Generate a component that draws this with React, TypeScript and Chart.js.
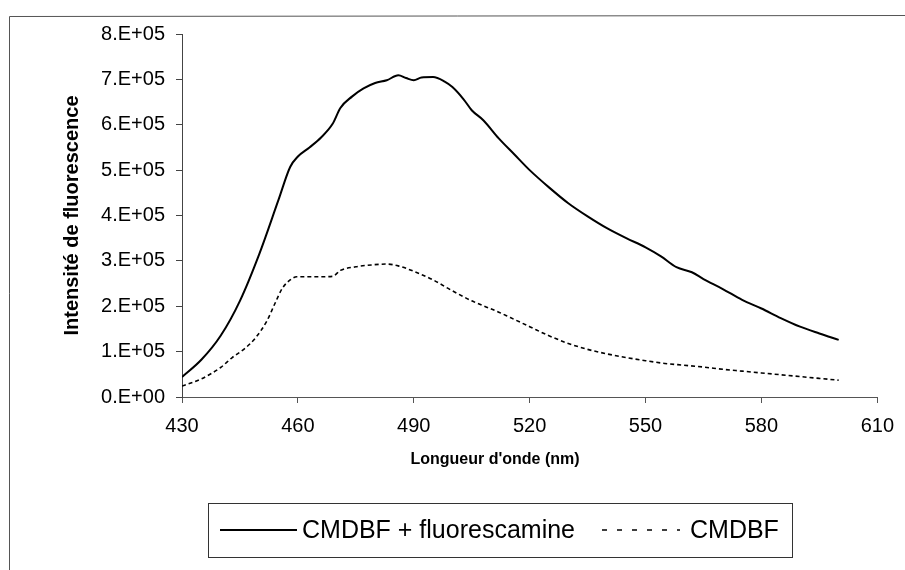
import React, { useEffect, useRef } from "react";
import { Chart, registerables } from "chart.js";

Chart.register(...registerables);

// Wavelength (nm) and fluorescence intensity for "CMDBF + fluorescamine"
const solidWavelengths = [
  430, 435, 440, 445, 450, 455, 458, 460, 463, 466, 469, 471, 474, 477, 480, 483,
  486, 488, 490, 492, 495, 498, 500, 503, 505, 508, 512, 516, 520, 525, 530, 535,
  540, 545, 550, 554, 558, 562, 565, 570, 575, 580, 585, 590, 595, 600,
];
const solidIntensity = [
  44000, 82000, 135000, 212000, 315000, 435000, 507000, 530000, 550000, 572000,
  602000, 637000, 662000, 680000, 692000, 698000, 709000, 703000, 698000, 704000,
  705000, 695000, 683000, 655000, 632000, 610000, 570000, 535000, 500000, 462000,
  427000, 398000, 372000, 350000, 330000, 310000, 286000, 275000, 260000, 238000,
  214000, 195000, 174000, 155000, 140000, 126000,
];

// Wavelength (nm) and fluorescence intensity for "CMDBF"
const dashedWavelengths = [
  430, 435, 440, 443, 446, 449, 452, 454, 456, 458, 459.7, 465, 469, 471, 475, 479,
  483, 486, 490, 495, 500, 505, 512, 515, 520, 525, 530, 535, 540, 545, 550, 555,
  560, 565, 570, 575, 580, 585, 590, 595, 600,
];
const dashedIntensity = [
  24000, 40000, 65000, 87000, 105000, 130000, 168000, 205000, 240000, 258000,
  265000, 265000, 266000, 279000, 287000, 291000, 293000, 289000, 277000, 258000,
  234000, 212000, 187000, 175000, 155000, 135000, 118000, 105000, 95000, 87000,
  80000, 74000, 70000, 66000, 61000, 57000, 53000, 49000, 45000, 41000, 37000,
];

const seriesLabels = ["CMDBF + fluorescamine", "CMDBF"];
const xTickValues = [430, 460, 490, 520, 550, 580, 610];
const yTickLabels = [
  "0.E+00", "1.E+05", "2.E+05", "3.E+05", "4.E+05", "5.E+05", "6.E+05", "7.E+05", "8.E+05",
];
const xAxisTitle = "Longueur d'onde (nm)";
const yAxisTitle = "Intensité de fluorescence";

const FONT = "'Liberation Sans', Arial, sans-serif";

const framePlugin = {
  id: "frame",
  beforeDraw(chart: any) {
    const ctx = chart.ctx;
    ctx.save();
    ctx.fillStyle = "#ffffff";
    ctx.fillRect(0, 0, chart.width, chart.height);
    ctx.strokeStyle = "#555";
    ctx.lineWidth = 1;
    ctx.beginPath();
    ctx.moveTo(9.5, 570);
    ctx.lineTo(9.5, 16.5);
    ctx.lineTo(905, 15.5);
    ctx.stroke();
    ctx.restore();
  },
};

const xTitlePlugin = {
  id: "xTitle",
  afterDraw(chart: any) {
    const ctx = chart.ctx;
    ctx.save();
    ctx.font = `bold 16px ${FONT}`;
    ctx.fillStyle = "#000";
    ctx.textAlign = "center";
    ctx.textBaseline = "middle";
    ctx.fillText(xAxisTitle, 495, 460);
    ctx.restore();
  },
};

const boxLegendPlugin = {
  id: "boxLegend",
  afterDraw(chart: any) {
    const ctx = chart.ctx;
    const ds = chart.data.datasets;
    ctx.save();
    ctx.strokeStyle = "#333";
    ctx.lineWidth = 1;
    ctx.strokeRect(208.5, 503.5, 584, 54);
    const cy = 530;
    const items = [
      { x0: 220, x1: 297, tx: 302, dash: [] as number[], w: 2 },
      { x0: 602, x1: 680, tx: 690, dash: [5, 10], w: 1.6 },
    ];
    ctx.font = `25px ${FONT}`;
    ctx.textBaseline = "middle";
    ctx.fillStyle = "#000";
    items.forEach((it, i) => {
      const d = ds[i];
      ctx.save();
      ctx.strokeStyle = d.borderColor;
      ctx.lineWidth = it.w;
      ctx.setLineDash(it.dash);
      ctx.beginPath();
      ctx.moveTo(it.x0, cy);
      ctx.lineTo(it.x1, cy);
      ctx.stroke();
      ctx.restore();
      ctx.fillText(d.label, it.tx, cy + 1);
    });
    ctx.restore();
  },
};

export default function App() {
  const canvasRef = useRef<HTMLCanvasElement | null>(null);

  useEffect(() => {
    if (!canvasRef.current) return;
    const chart = new Chart(canvasRef.current, {
      type: "line",
      data: {
        datasets: [
          {
            label: seriesLabels[0],
            data: solidWavelengths.map((x, i) => ({ x, y: solidIntensity[i] })),
            borderColor: "#000",
            borderWidth: 2,
            pointRadius: 0,
            fill: false,
            cubicInterpolationMode: "monotone",
          },
          {
            label: seriesLabels[1],
            data: dashedWavelengths.map((x, i) => ({ x, y: dashedIntensity[i] })),
            borderColor: "#000",
            borderWidth: 1.6,
            borderDash: [4, 3],
            pointRadius: 0,
            fill: false,
            cubicInterpolationMode: "monotone",
          },
        ],
      },
      options: {
        responsive: false,
        animation: false,
        layout: { padding: { left: 0, right: 26, top: 34, bottom: 0 } },
        plugins: {
          legend: { display: false },
          tooltip: { enabled: false },
        },
        scales: {
          x: {
            type: "linear",
            min: 430,
            max: 610,
            afterFit: (s: any) => {
              s.height = 173;
            },
            afterBuildTicks: (s: any) => {
              s.ticks = xTickValues.map((v) => ({ value: v }));
            },
            ticks: {
              font: { family: FONT, size: 20 },
              color: "#000",
              padding: 11,
              maxRotation: 0,
              callback: (v: any) => String(v),
            },
            grid: {
              drawOnChartArea: false,
              drawTicks: true,
              tickLength: 6,
              color: "#555",
            },
            border: { display: true, color: "#555", width: 1 },
            title: { display: false, text: xAxisTitle },
          },
          y: {
            type: "linear",
            min: 0,
            max: 800000,
            afterFit: (s: any) => {
              s.width = 182;
            },
            ticks: {
              stepSize: 100000,
              font: { family: FONT, size: 20 },
              color: "#000",
              padding: 11,
              callback: (v: any) => yTickLabels[Math.round(Number(v) / 100000)] ?? "",
            },
            grid: {
              drawOnChartArea: false,
              drawTicks: true,
              tickLength: 6,
              color: "#444",
            },
            border: { display: true, color: "#444", width: 1 },
            title: {
              display: true,
              text: yAxisTitle,
              font: { family: FONT, size: 20, weight: "bold" },
              color: "#000",
              padding: { top: 60, bottom: 0 },
            },
          },
        },
      },
      plugins: [framePlugin, xTitlePlugin, boxLegendPlugin],
    } as any);
    return () => chart.destroy();
  }, []);

  return (
    <div style={{ position: "absolute", left: 0, top: 0, width: 905, height: 570, background: "#fff" }}>
      <canvas ref={canvasRef} width={905} height={570} style={{ display: "block" }} />
    </div>
  );
}
